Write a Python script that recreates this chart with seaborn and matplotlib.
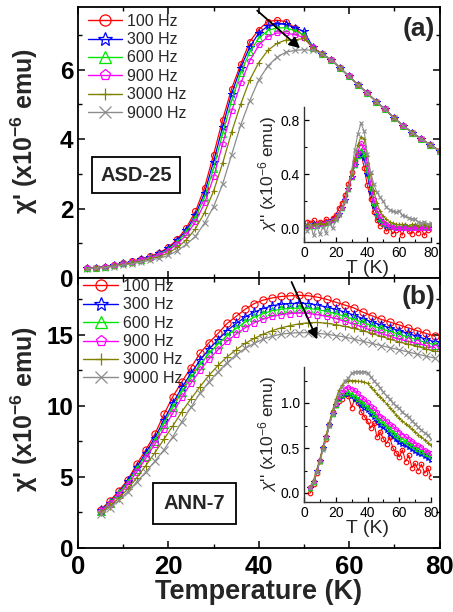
import matplotlib
matplotlib.use("Agg")
import matplotlib.pyplot as plt
import seaborn as sns
import pandas as pd
from matplotlib.lines import Line2D
from matplotlib.ticker import MultipleLocator, FormatStrFormatter

sns.set_theme(style="white")
plt.rcParams['font.family'] = ['Liberation Sans', 'DejaVu Sans']
plt.rcParams['mathtext.fontset'] = 'custom'
plt.rcParams['mathtext.rm'] = 'Liberation Sans'
plt.rcParams['mathtext.bf'] = 'Liberation Sans:bold'
plt.rcParams['mathtext.it'] = 'Liberation Sans:italic'

# ---------------- data ----------------
labels = ["100 Hz", "300 Hz", "600 Hz", "900 Hz", "3000 Hz", "9000 Hz"]

# (a) ASD-25, chi' vs T
T_a = [2, 4, 6, 8, 10, 12, 14, 16, 18, 20, 22, 24, 26, 28, 30, 32, 34, 36, 38, 40,
       42, 44, 46, 48, 50, 52, 54, 56, 58, 60, 62, 64, 66, 68, 70, 72, 74, 76, 78, 80]
a_100 = [0.28, 0.30, 0.33, 0.37, 0.42, 0.48, 0.55, 0.62, 0.73, 0.88, 1.12, 1.45, 1.92, 2.60, 3.55, 4.55, 5.45, 6.15, 6.80, 7.15,
         7.38, 7.42, 7.38, 7.20, 6.95, 6.62, 6.45, 6.28, 6.05, 5.80, 5.56, 5.32, 5.08, 4.85, 4.60, 4.38, 4.18, 4.00, 3.83, 3.66]
a_300 = [0.28, 0.30, 0.33, 0.37, 0.42, 0.47, 0.54, 0.61, 0.71, 0.85, 1.08, 1.38, 1.82, 2.45, 3.35, 4.35, 5.30, 6.05, 6.65, 7.05,
         7.25, 7.32, 7.30, 7.20, 7.10, 6.64, 6.45, 6.28, 6.05, 5.80, 5.56, 5.32, 5.08, 4.85, 4.60, 4.38, 4.18, 4.00, 3.83, 3.66]
a_600 = [0.28, 0.30, 0.33, 0.37, 0.42, 0.47, 0.53, 0.60, 0.69, 0.82, 1.04, 1.32, 1.74, 2.32, 3.15, 4.15, 5.10, 5.90, 6.50, 6.90,
         7.12, 7.20, 7.20, 7.12, 7.00, 6.63, 6.45, 6.28, 6.05, 5.80, 5.56, 5.32, 5.08, 4.85, 4.60, 4.38, 4.18, 4.00, 3.83, 3.66]
a_900 = [0.28, 0.30, 0.33, 0.36, 0.41, 0.46, 0.52, 0.58, 0.67, 0.79, 0.98, 1.24, 1.62, 2.15, 2.90, 3.85, 4.80, 5.60, 6.25, 6.70,
         6.95, 7.05, 7.05, 7.00, 6.92, 6.64, 6.45, 6.28, 6.05, 5.80, 5.56, 5.32, 5.08, 4.85, 4.60, 4.38, 4.18, 4.00, 3.83, 3.66]
a_3000 = [0.27, 0.29, 0.32, 0.35, 0.39, 0.44, 0.49, 0.55, 0.62, 0.72, 0.88, 1.10, 1.42, 1.88, 2.50, 3.30, 4.20, 5.00, 5.70, 6.20,
          6.55, 6.75, 6.85, 6.85, 6.90, 6.62, 6.45, 6.28, 6.05, 5.80, 5.56, 5.32, 5.08, 4.85, 4.60, 4.38, 4.18, 4.00, 3.83, 3.66]
a_9000 = [0.26, 0.28, 0.30, 0.33, 0.37, 0.41, 0.46, 0.51, 0.57, 0.65, 0.79, 0.97, 1.20, 1.58, 2.05, 2.70, 3.55, 4.40, 5.10, 5.70,
          6.10, 6.35, 6.50, 6.55, 6.57, 6.55, 6.45, 6.28, 6.05, 5.80, 5.56, 5.32, 5.08, 4.85, 4.60, 4.38, 4.18, 4.00, 3.83, 3.66]

# (a) inset chi'' vs T
ai_100 = [0.05, 0.04, 0.06, 0.03, 0.05, 0.04, 0.07, 0.05, 0.08, 0.10, 0.15, 0.19, 0.25, 0.33, 0.42, 0.50, 0.55, 0.56, 0.45, 0.32,
          0.22, 0.12, 0.06, 0.02, 0.04, -0.02, 0.01, -0.04, -0.01, 0.00, -0.05, 0.02, -0.02, -0.04, 0.01, -0.03, 0.00, -0.05, -0.01, 0.00]
ai_300 = [0.02, 0.02, 0.03, 0.02, 0.03, 0.03, 0.04, 0.05, 0.06, 0.08, 0.11, 0.15, 0.21, 0.29, 0.38, 0.47, 0.54, 0.57, 0.52, 0.40,
          0.27, 0.17, 0.10, 0.06, 0.03, 0.02, 0.01, 0.01, 0.00, 0.00, 0.00, 0.01, 0.00, 0.00, 0.01, 0.00, 0.00, 0.01, 0.00, 0.00]
ai_600 = [0.02, 0.02, 0.02, 0.03, 0.03, 0.03, 0.04, 0.05, 0.06, 0.08, 0.11, 0.15, 0.21, 0.29, 0.38, 0.47, 0.54, 0.58, 0.55, 0.43,
          0.30, 0.19, 0.11, 0.07, 0.04, 0.03, 0.02, 0.02, 0.01, 0.01, 0.01, 0.01, 0.01, 0.01, 0.01, 0.01, 0.01, 0.01, 0.01, 0.01]
ai_900 = [0.02, 0.02, 0.02, 0.03, 0.03, 0.03, 0.04, 0.05, 0.06, 0.08, 0.11, 0.15, 0.21, 0.29, 0.38, 0.48, 0.57, 0.63, 0.60, 0.48,
          0.34, 0.22, 0.14, 0.09, 0.05, 0.03, 0.02, 0.01, 0.00, 0.00, 0.00, 0.00, 0.00, 0.00, 0.00, 0.00, 0.00, 0.00, 0.00, 0.00]
ai_3000 = [0.03, 0.02, 0.03, 0.03, 0.04, 0.03, 0.04, 0.05, 0.06, 0.08, 0.11, 0.15, 0.21, 0.30, 0.40, 0.52, 0.62, 0.68, 0.66, 0.54,
           0.40, 0.28, 0.19, 0.13, 0.09, 0.07, 0.05, 0.04, 0.03, 0.03, 0.03, 0.03, 0.02, 0.03, 0.03, 0.02, 0.03, 0.03, 0.02, 0.03]
ai_9000 = [-0.02, 0.03, -0.05, 0.02, -0.04, 0.01, -0.03, 0.04, 0.00, 0.06, 0.10, 0.15, 0.20, 0.30, 0.42, 0.58, 0.70, 0.78, 0.72, 0.55,
           0.42, 0.33, 0.27, 0.23, 0.20, 0.16, 0.14, 0.13, 0.12, 0.13, 0.10, 0.09, 0.08, 0.07, 0.07, 0.05, 0.04, 0.05, 0.03, 0.04]

# (b) ANN-7, chi' vs T
T_b = [5, 7, 9, 11, 13, 15, 17, 19, 21, 23, 25, 27, 29, 31, 33, 35, 37, 39, 41, 43,
       45, 47, 49, 51, 53, 55, 57, 59, 61, 63, 65, 67, 69, 71, 73, 75, 77, 79]
b_100 = [2.70, 3.30, 4.00, 4.80, 5.90, 6.90, 8.00, 9.40, 10.66, 11.70, 12.70, 13.70, 14.45, 15.10, 15.80, 16.30, 16.80, 17.20, 17.45, 17.60,
         17.70, 17.75, 17.78, 17.75, 17.65, 17.50, 17.30, 17.10, 16.90, 16.60, 16.35, 16.10, 15.90, 15.70, 15.50, 15.30, 15.10, 14.90]
b_300 = [2.65, 3.20, 3.90, 4.70, 5.70, 6.70, 7.75, 9.00, 10.20, 11.30, 12.30, 13.20, 14.00, 14.65, 15.30, 15.80, 16.25, 16.60, 16.85, 17.05,
         17.15, 17.20, 17.23, 17.20, 17.10, 16.95, 16.80, 16.60, 16.40, 16.15, 15.90, 15.70, 15.50, 15.30, 15.10, 14.90, 14.70, 14.50]
b_600 = [2.62, 3.15, 3.85, 4.60, 5.55, 6.50, 7.55, 8.75, 9.90, 11.00, 12.00, 12.90, 13.70, 14.35, 14.95, 15.45, 15.90, 16.25, 16.50, 16.70,
         16.80, 16.87, 16.88, 16.86, 16.78, 16.65, 16.50, 16.30, 16.10, 15.88, 15.65, 15.45, 15.25, 15.05, 14.85, 14.65, 14.45, 14.30]
b_900 = [2.58, 3.10, 3.75, 4.45, 5.35, 6.30, 7.30, 8.40, 9.50, 10.60, 11.60, 12.50, 13.30, 13.95, 14.55, 15.05, 15.50, 15.85, 16.10, 16.30,
         16.42, 16.50, 16.53, 16.50, 16.42, 16.30, 16.15, 15.95, 15.75, 15.55, 15.30, 15.10, 14.90, 14.70, 14.55, 14.40, 14.25, 14.10]
b_3000 = [2.50, 2.95, 3.50, 4.15, 4.95, 5.80, 6.70, 7.65, 8.60, 9.60, 10.50, 11.35, 12.15, 12.85, 13.45, 13.95, 14.40, 14.75, 15.05, 15.30,
          15.50, 15.65, 15.78, 15.85, 15.87, 15.82, 15.72, 15.60, 15.45, 15.30, 15.10, 14.90, 14.70, 14.50, 14.35, 14.20, 14.00, 13.85]
b_9000 = [2.40, 2.85, 3.35, 3.95, 4.65, 5.35, 6.10, 6.90, 7.84, 8.90, 9.90, 10.90, 11.70, 12.40, 13.05, 13.60, 14.05, 14.40, 14.70, 14.90,
          15.05, 15.12, 15.15, 15.15, 15.10, 15.05, 14.95, 14.85, 14.70, 14.55, 14.40, 14.25, 14.10, 13.95, 13.80, 13.65, 13.50, 13.36]

# (b) inset chi'' vs T
T_bi = [4, 6, 8, 10, 12, 14, 16, 18, 20, 22, 24, 26, 28, 30, 32, 34, 36, 38, 40,
        42, 44, 46, 48, 50, 52, 54, 56, 58, 60, 62, 64, 66, 68, 70, 72, 74, 76, 78, 80]
bi_100 = [0.00, 0.10, 0.22, 0.36, 0.50, 0.60, 0.76, 0.90, 0.98, 1.02, 1.05, 1.10, 1.08, 0.95, 1.05, 1.00, 0.90, 0.85, 0.80,
          0.72, 0.78, 0.62, 0.68, 0.60, 0.55, 0.62, 0.50, 0.45, 0.40, 0.48, 0.35, 0.42, 0.28, 0.33, 0.25, 0.32, 0.22, 0.28, 0.18]
bi_300 = [0.06, 0.12, 0.24, 0.36, 0.50, 0.62, 0.76, 0.88, 0.98, 1.04, 1.08, 1.10, 1.10, 1.08, 1.05, 1.02, 0.98, 0.95, 0.92,
          0.88, 0.84, 0.80, 0.76, 0.73, 0.70, 0.66, 0.63, 0.60, 0.57, 0.55, 0.53, 0.51, 0.49, 0.47, 0.45, 0.43, 0.41, 0.39, 0.37]
bi_600 = [0.06, 0.12, 0.24, 0.36, 0.50, 0.62, 0.76, 0.88, 0.98, 1.05, 1.09, 1.12, 1.12, 1.10, 1.08, 1.05, 1.02, 0.99, 0.96,
          0.92, 0.88, 0.85, 0.81, 0.78, 0.75, 0.71, 0.68, 0.65, 0.62, 0.60, 0.58, 0.56, 0.53, 0.51, 0.49, 0.47, 0.45, 0.43, 0.41]
bi_900 = [0.07, 0.13, 0.25, 0.37, 0.51, 0.63, 0.77, 0.89, 0.99, 1.07, 1.12, 1.16, 1.18, 1.16, 1.14, 1.11, 1.07, 1.04, 1.01,
          0.97, 0.94, 0.90, 0.86, 0.83, 0.80, 0.77, 0.74, 0.71, 0.68, 0.65, 0.63, 0.60, 0.58, 0.55, 0.53, 0.51, 0.48, 0.46, 0.44]
bi_3000 = [0.07, 0.14, 0.26, 0.38, 0.52, 0.65, 0.79, 0.92, 1.04, 1.14, 1.20, 1.24, 1.25, 1.25, 1.25, 1.24, 1.24, 1.23, 1.22,
           1.18, 1.14, 1.10, 1.07, 1.03, 0.99, 0.95, 0.91, 0.87, 0.83, 0.80, 0.77, 0.74, 0.71, 0.68, 0.65, 0.62, 0.59, 0.56, 0.53]
bi_9000 = [0.06, 0.12, 0.23, 0.35, 0.48, 0.61, 0.75, 0.88, 1.00, 1.10, 1.18, 1.24, 1.28, 1.33, 1.34, 1.35, 1.34, 1.35, 1.33,
           1.29, 1.25, 1.21, 1.17, 1.12, 1.08, 1.04, 1.00, 0.97, 0.94, 0.90, 0.87, 0.84, 0.80, 0.77, 0.73, 0.70, 0.67, 0.64, 0.60]

# ---------------- styles ----------------
colors = ['#FF0000', '#0000FF', '#00E600', '#FF00FF', '#808000', '#8C8C8C']
markers = ['o', '*', '^', 'p', '+', 'x']
open_m = [True, True, True, True, False, False]


def draw(ax, T, series, ms, lw=0.9):
    for i, y in enumerate(series):
        df = pd.DataFrame({'T': T, 'v': y})
        kw = dict(marker=markers[i], markersize=ms * (1.3 if markers[i] == '*' else 1.0),
                  markeredgecolor=colors[i], markeredgewidth=0.8)
        if open_m[i]:
            kw['markerfacecolor'] = 'none'
        sns.lineplot(data=df, x='T', y='v', ax=ax, color=colors[i], linewidth=lw,
                     legend=False, errorbar=None, **kw)


def legend_handles():
    hs = []
    for i in range(6):
        kw = dict(color=colors[i], marker=markers[i], markeredgecolor=colors[i],
                  markeredgewidth=0.9, lw=1.0,
                  markersize=10 if markers[i] == '*' else 8)
        if open_m[i]:
            kw['markerfacecolor'] = 'none'
        hs.append(Line2D([0], [0], **kw))
    return hs


def style_main(ax):
    for s in ax.spines.values():
        s.set_visible(True)
        s.set_color('black')
        s.set_linewidth(1.3)
    ax.tick_params(which='both', direction='in', top=True, right=True,
                   bottom=True, left=True, colors='black')
    ax.tick_params(which='major', length=5, width=1.1)
    ax.tick_params(which='minor', length=3, width=1.0)
    ax.xaxis.set_major_locator(MultipleLocator(20))
    ax.xaxis.set_minor_locator(MultipleLocator(10))
    ax.set_xlim(0, 80)


def style_inset(ax):
    ax.set_facecolor('none')
    for k in ['top', 'right']:
        ax.spines[k].set_visible(False)
    for k in ['left', 'bottom']:
        ax.spines[k].set_visible(True)
        ax.spines[k].set_color('#333333')
        ax.spines[k].set_linewidth(1.0)
    ax.tick_params(which='both', direction='in', colors='black', labelsize=10, pad=3)
    ax.tick_params(which='major', length=3.5, width=0.9, left=True, bottom=True)
    ax.tick_params(which='minor', length=2, width=0.8, left=True, bottom=True)
    ax.xaxis.set_major_locator(MultipleLocator(20))
    ax.xaxis.set_minor_locator(MultipleLocator(10))
    ax.set_xlim(0, 80)
    ax.set_xlabel('T (K)', fontsize=14, labelpad=0)


def add_legend(ax, anchor, hlen, tpad):
    ax.legend(legend_handles(), labels, loc='upper left', bbox_to_anchor=anchor,
              frameon=False, fontsize=11.5, handlelength=hlen, handletextpad=tpad,
              labelspacing=0.21, borderaxespad=0.0, borderpad=0.0)


fig = plt.figure(figsize=(4.53, 6.12), dpi=100)
W, H = 453.0, 612.0
axa = fig.add_axes([78 / W, 1 - 278 / H, 361.5 / W, 271 / H])
axb = fig.add_axes([78 / W, 1 - 548 / H, 361.5 / W, 270 / H])

ylab_main = r"$\mathbf{\chi}$' (x10$^{\mathbf{-6}}$ emu)"
ylab_ins = r"$\chi$'' (x10$^{-6}$ emu)"

# ----- panel (a)
draw(axa, T_a, [a_100, a_300, a_600, a_900, a_3000, a_9000], ms=4.3)
style_main(axa)
axa.set_ylim(0, 7.8)
axa.yaxis.set_major_locator(MultipleLocator(2))
axa.yaxis.set_minor_locator(MultipleLocator(1))
axa.tick_params(labelbottom=False, labelsize=17.5)
for t in axa.get_yticklabels():
    t.set_fontweight('bold')
axa.set_xlabel('')
axa.set_ylabel(ylab_main, fontsize=18, fontweight='bold')
axa.yaxis.set_label_coords(-0.105, 0.542)
add_legend(axa, (0.0277, 0.975), 2.1, 0.35)
axa.text(0.943, 0.919, '(a)', transform=axa.transAxes, fontsize=19, fontweight='bold',
         ha='center', va='center')
axa.text(0.16, 0.38, 'ASD-25', transform=axa.transAxes, fontsize=14.5, fontweight='bold',
         ha='center', va='center',
         bbox=dict(boxstyle='square,pad=0.42', facecolor='white', edgecolor='black', lw=1.3))
axa.annotate('', xy=(49.6, 6.56), xytext=(39.2, 7.75),
             arrowprops=dict(arrowstyle='-|>', color='black', lw=1.3, mutation_scale=16))

# inset (a)
ia = fig.add_axes([304 / W, 1 - 242 / H, 126.7 / W, 135 / H])
draw(ia, T_a, [ai_100, ai_300, ai_600, ai_900, ai_3000, ai_9000], ms=3.3, lw=0.8)
style_inset(ia)
ia.set_ylim(-0.1, 0.9)
ia.yaxis.set_major_locator(MultipleLocator(0.4))
ia.yaxis.set_minor_locator(MultipleLocator(0.2))
ia.yaxis.set_major_formatter(FormatStrFormatter('%.1f'))
ia.set_ylabel(ylab_ins, fontsize=12.5)
ia.yaxis.set_label_coords(-0.2, 0.5)

# ----- panel (b)
draw(axb, T_b, [b_100, b_300, b_600, b_900, b_3000, b_9000], ms=5.2)
style_main(axb)
axb.set_ylim(0, 19)
axb.yaxis.set_major_locator(MultipleLocator(5))
axb.yaxis.set_minor_locator(MultipleLocator(2.5))
axb.tick_params(labelsize=17.5)
axb.tick_params(axis='x', labelsize=18.5, pad=5)
for t in axb.get_yticklabels() + axb.get_xticklabels():
    t.set_fontweight('bold')
axb.set_xlabel('Temperature (K)', fontsize=19.5, fontweight='bold', labelpad=0)
axb.set_ylabel(ylab_main, fontsize=18, fontweight='bold')
axb.yaxis.set_label_coords(-0.105, 0.515)
add_legend(axb, (0.0138, 0.996), 2.2, 0.3)
axb.text(0.943, 0.93, '(b)', transform=axb.transAxes, fontsize=19, fontweight='bold',
         ha='center', va='center')
axb.text(0.322, 0.164, 'ANN-7', transform=axb.transAxes, fontsize=14.5, fontweight='bold',
         ha='center', va='center',
         bbox=dict(boxstyle='square,pad=0.55', facecolor='white', edgecolor='black', lw=1.3))
axb.annotate('', xy=(53.2, 14.5), xytext=(47.0, 18.9),
             arrowprops=dict(arrowstyle='-|>', color='black', lw=1.3, mutation_scale=16))

# inset (b)
ib = fig.add_axes([304 / W, 1 - 502 / H, 127 / W, 135 / H])
draw(ib, T_bi, [bi_100, bi_300, bi_600, bi_900, bi_3000, bi_9000], ms=3.3, lw=0.8)
style_inset(ib)
ib.set_ylim(-0.1, 1.4)
ib.yaxis.set_major_locator(MultipleLocator(0.5))
ib.yaxis.set_minor_locator(MultipleLocator(0.25))
ib.yaxis.set_major_formatter(FormatStrFormatter('%.1f'))
ib.set_ylabel(ylab_ins, fontsize=12.5)
ib.yaxis.set_label_coords(-0.2, 0.5)

fig.savefig('out.png', dpi=100)
